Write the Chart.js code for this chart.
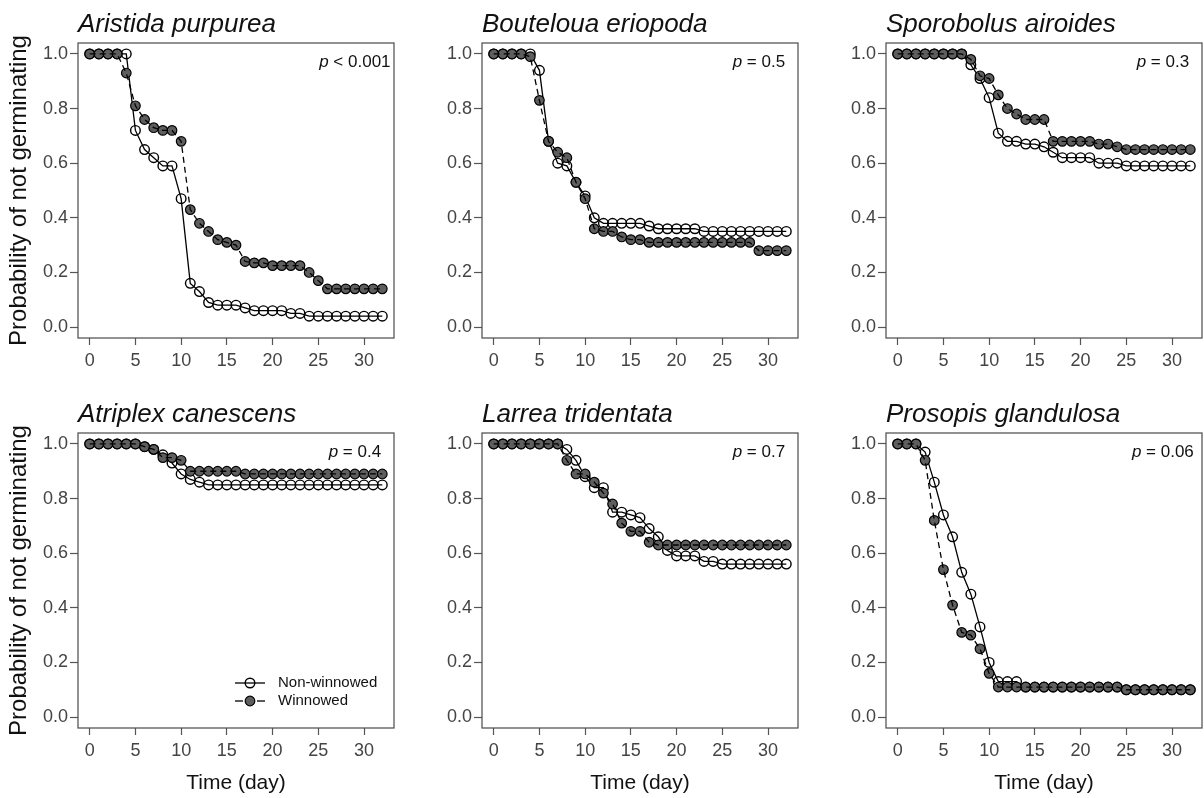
<!DOCTYPE html>
<html>
<head>
<meta charset="utf-8">
<script src="https://cdn.jsdelivr.net/npm/chart.js@4.4.0/dist/chart.umd.min.js"></script>
<style>
html, body { margin: 0; padding: 0; background: #fff; overflow: hidden; }
#wrap { position: relative; width: 1204px; height: 798px; overflow: hidden; }
#wrap canvas { position: absolute; }
</style>
</head>
<body>
<div id="wrap"></div>
<script>
"use strict";

// days of observation
var days = [0, 1, 2, 3, 4, 5, 6, 7, 8, 9, 10, 11, 12, 13, 14, 15, 16, 17, 18, 19, 20,
    21, 22, 23, 24, 25, 26, 27, 28, 29, 30, 31, 32];
var xTicks = [0, 5, 10, 15, 20, 25, 30];
var yTicks = [0, 0.2, 0.4, 0.6, 0.8, 1.0];

var species = ["Aristida purpurea", "Bouteloua eriopoda", "Sporobolus airoides",
    "Atriplex canescens", "Larrea tridentata", "Prosopis glandulosa"];
var pValues = ["< 0.001", "= 0.5", "= 0.3", "= 0.4", "= 0.7", "= 0.06"];

// probability of not germinating, non-winnowed / winnowed
var aristidaNon = [1, 1, 1, 1, 1, 0.72, 0.65, 0.62, 0.59, 0.59, 0.47, 0.16, 0.13, 0.09, 0.08, 0.08, 0.08,
    0.07, 0.06, 0.06, 0.06, 0.06, 0.05, 0.05, 0.04, 0.04, 0.04, 0.04, 0.04, 0.04, 0.04, 0.04, 0.04];
var aristidaWin = [1, 1, 1, 1, 0.93, 0.81, 0.76, 0.73, 0.72, 0.72, 0.68, 0.43, 0.38, 0.35, 0.32, 0.31, 0.30,
    0.24, 0.235, 0.235, 0.225, 0.225, 0.225, 0.225, 0.20, 0.17, 0.14, 0.14, 0.14, 0.14, 0.14, 0.14, 0.14];

var boutelouaNon = [1, 1, 1, 1, 1, 0.94, 0.68, 0.60, 0.59, 0.53, 0.48, 0.40, 0.38, 0.38, 0.38, 0.38, 0.38,
    0.37, 0.36, 0.36, 0.36, 0.36, 0.36, 0.35, 0.35, 0.35, 0.35, 0.35, 0.35, 0.35, 0.35, 0.35, 0.35];
var boutelouaWin = [1, 1, 1, 1, 0.99, 0.83, 0.68, 0.64, 0.62, 0.53, 0.47, 0.36, 0.35, 0.35, 0.33, 0.32, 0.32,
    0.31, 0.31, 0.31, 0.31, 0.31, 0.31, 0.31, 0.31, 0.31, 0.31, 0.31, 0.31, 0.28, 0.28, 0.28, 0.28];

var sporobolusNon = [1, 1, 1, 1, 1, 1, 1, 1, 0.96, 0.91, 0.84, 0.71, 0.68, 0.68, 0.67, 0.67, 0.66,
    0.64, 0.62, 0.62, 0.62, 0.62, 0.60, 0.60, 0.60, 0.59, 0.59, 0.59, 0.59, 0.59, 0.59, 0.59, 0.59];
var sporobolusWin = [1, 1, 1, 1, 1, 1, 1, 1, 0.98, 0.92, 0.91, 0.85, 0.80, 0.78, 0.76, 0.76, 0.76,
    0.68, 0.68, 0.68, 0.68, 0.68, 0.67, 0.67, 0.66, 0.65, 0.65, 0.65, 0.65, 0.65, 0.65, 0.65, 0.65];

var atriplexNon = [1, 1, 1, 1, 1, 1, 0.99, 0.98, 0.96, 0.93, 0.89, 0.87, 0.86, 0.85, 0.85, 0.85, 0.85,
    0.85, 0.85, 0.85, 0.85, 0.85, 0.85, 0.85, 0.85, 0.85, 0.85, 0.85, 0.85, 0.85, 0.85, 0.85, 0.85];
var atriplexWin = [1, 1, 1, 1, 1, 1, 0.99, 0.98, 0.95, 0.95, 0.94, 0.90, 0.90, 0.90, 0.90, 0.90, 0.90,
    0.89, 0.89, 0.89, 0.89, 0.89, 0.89, 0.89, 0.89, 0.89, 0.89, 0.89, 0.89, 0.89, 0.89, 0.89, 0.89];

var larreaNon = [1, 1, 1, 1, 1, 1, 1, 1, 0.98, 0.94, 0.88, 0.84, 0.84, 0.75, 0.75, 0.74, 0.73,
    0.69, 0.66, 0.61, 0.59, 0.59, 0.59, 0.57, 0.57, 0.56, 0.56, 0.56, 0.56, 0.56, 0.56, 0.56, 0.56];
var larreaWin = [1, 1, 1, 1, 1, 1, 1, 1, 0.94, 0.89, 0.89, 0.86, 0.82, 0.78, 0.71, 0.68, 0.68,
    0.64, 0.63, 0.63, 0.63, 0.63, 0.63, 0.63, 0.63, 0.63, 0.63, 0.63, 0.63, 0.63, 0.63, 0.63, 0.63];

var prosopisNon = [1, 1, 1, 0.97, 0.86, 0.74, 0.66, 0.53, 0.45, 0.33, 0.20, 0.13, 0.13, 0.13, 0.11, 0.11, 0.11,
    0.11, 0.11, 0.11, 0.11, 0.11, 0.11, 0.11, 0.11, 0.10, 0.10, 0.10, 0.10, 0.10, 0.10, 0.10, 0.10];
var prosopisWin = [1, 1, 1, 0.94, 0.72, 0.54, 0.41, 0.31, 0.30, 0.25, 0.16, 0.11, 0.11, 0.11, 0.11, 0.11, 0.11,
    0.11, 0.11, 0.11, 0.11, 0.11, 0.11, 0.11, 0.11, 0.10, 0.10, 0.10, 0.10, 0.10, 0.10, 0.10, 0.10];

var nonWinnowed = [aristidaNon, boutelouaNon, sporobolusNon, atriplexNon, larreaNon, prosopisNon];
var winnowed = [aristidaWin, boutelouaWin, sporobolusWin, atriplexWin, larreaWin, prosopisWin];

var FONT = "'Liberation Sans', Arial, Helvetica, sans-serif";
var GRAY = '#5e5e5e';
Chart.defaults.font.family = FONT;

function pts(vals) {
    return days.map(function (d, i) { return {x: d, y: vals[i]}; });
}

// box around plot area, p-value text, legend
var framePlugin = {
    id: 'frame',
    beforeDatasetsDraw: function (chart) {
        var a = chart.chartArea, c = chart.ctx;
        c.save();
        c.strokeStyle = '#4a4a4a';
        c.lineWidth = 1.2;
        c.strokeRect(a.left, a.top, a.right - a.left, a.bottom - a.top);
        c.restore();
    },
    afterDraw: function (chart, args, opts) {
        var c = chart.ctx, a = chart.chartArea;
        var xs = chart.scales.x, ys = chart.scales.y;
        c.save();
        // p value
        var cx = xs.getPixelForValue(29), cy = ys.getPixelForValue(0.97);
        c.fillStyle = '#111';
        c.textBaseline = 'middle';
        c.font = 'italic 17px ' + FONT;
        var wp = c.measureText('p').width;
        c.font = '17px ' + FONT;
        var rest = ' ' + opts.p;
        var wr = c.measureText(rest).width;
        var x0 = cx - (wp + wr) / 2;
        c.textAlign = 'left';
        c.font = 'italic 17px ' + FONT;
        c.fillText('p', x0, cy);
        c.font = '17px ' + FONT;
        c.fillText(rest, x0 + wp, cy);

        if (opts.legend) {
            var lx0 = a.right - 159, lx1 = a.right - 129, lc = a.right - 144, tx = a.right - 116;
            var rows = [a.bottom - 45, a.bottom - 27];
            c.strokeStyle = '#000';
            c.lineWidth = 1.3;
            // non-winnowed
            c.beginPath(); c.moveTo(lx0, rows[0]); c.lineTo(lx1, rows[0]); c.stroke();
            c.beginPath(); c.arc(lc, rows[0], 4.8, 0, Math.PI * 2); c.lineWidth = 1.4; c.stroke();
            // winnowed
            c.lineWidth = 1.3;
            c.beginPath(); c.moveTo(lx0, rows[1]); c.lineTo(lx0 + 8, rows[1]); c.stroke();
            c.beginPath(); c.moveTo(lx1 - 8, rows[1]); c.lineTo(lx1, rows[1]); c.stroke();
            c.beginPath(); c.arc(lc, rows[1], 4.8, 0, Math.PI * 2);
            c.fillStyle = GRAY; c.fill(); c.lineWidth = 1.2; c.stroke();
            c.fillStyle = '#111';
            c.font = '15px ' + FONT;
            c.fillText('Non-winnowed', tx, rows[0]);
            c.fillText('Winnowed', tx, rows[1]);
        }
        c.restore();
    }
};

var wrap = document.getElementById('wrap');
var tickFont = {family: FONT, size: 18};
var titleFont = {family: FONT, size: 21};

for (var k = 0; k < 6; k++) {
    var row = Math.floor(k / 3), col = k % 3;
    var h = row === 0 ? 390 : 408;
    var cv = document.createElement('canvas');
    cv.width = 404; cv.height = h;
    cv.style.left = (404 * col) + 'px';
    cv.style.top = (390 * row) + 'px';
    cv.style.width = '404px'; cv.style.height = h + 'px';
    wrap.appendChild(cv);

    (function (k, row, col, h) {
        new Chart(cv, {
            type: 'line',
            data: {
                datasets: [{
                    label: 'Winnowed line',
                    data: pts(winnowed[k]),
                    borderColor: '#000',
                    borderWidth: 1.3,
                    borderDash: [6, 4],
                    pointRadius: 0,
                    order: 0
                }, {
                    label: 'Winnowed',
                    data: pts(winnowed[k]),
                    showLine: false,
                    pointRadius: 4.8,
                    pointBackgroundColor: GRAY,
                    pointBorderColor: '#000',
                    pointBorderWidth: 1.2,
                    order: 1
                }, {
                    label: 'Non-winnowed',
                    data: pts(nonWinnowed[k]),
                    borderColor: '#000',
                    borderWidth: 1.3,
                    pointRadius: 4.8,
                    pointBackgroundColor: 'rgba(255,255,255,0)',
                    pointBorderColor: '#000',
                    pointBorderWidth: 1.4,
                    order: 2
                }]
            },
            options: {
                responsive: false,
                animation: false,
                events: [],
                layout: {padding: {left: 0, right: 10, top: 0, bottom: 0}},
                plugins: {
                    legend: {display: false},
                    tooltip: {enabled: false},
                    title: {
                        display: true,
                        text: species[k],
                        align: 'start',
                        fullSize: false,
                        color: '#111',
                        font: {family: FONT, size: 26, style: 'italic', weight: 'normal'},
                        padding: {top: 9.4, bottom: 2.4}
                    },
                    frame: {p: pValues[k], legend: k === 3}
                },
                scales: {
                    x: {
                        type: 'linear',
                        min: -1.28,
                        max: 33.28,
                        afterBuildTicks: function (s) { s.ticks = xTicks.map(function (v) { return {value: v}; }); },
                        afterFit: function (s) { s.height = h - 338; },
                        grid: {drawOnChartArea: false, tickLength: 7, tickColor: '#555', tickWidth: 1.2},
                        border: {display: false},
                        ticks: {font: tickFont, color: '#444', padding: 5, maxRotation: 0, autoSkip: false},
                        title: {display: row === 1, text: 'Time (day)', color: '#111', font: titleFont,
                            padding: {top: 0, bottom: 2}}
                    },
                    y: {
                        min: -0.04,
                        max: 1.04,
                        afterBuildTicks: function (s) { s.ticks = yTicks.map(function (v) { return {value: v}; }); },
                        afterFit: function (s) { s.width = 78; },
                        grid: {drawOnChartArea: false, tickLength: 8, tickColor: '#555', tickWidth: 1.2},
                        border: {display: false},
                        ticks: {font: tickFont, color: '#444', padding: 2,
                            callback: function (v) { return v.toFixed(1); }},
                        title: {display: col === 0, text: 'Probability of not germinating', color: '#111',
                            font: {family: FONT, size: 24}, padding: {top: 5, bottom: 0}}
                    }
                }
            },
            plugins: [framePlugin]
        });
    })(k, row, col, h);
}
</script>
</body>
</html>
